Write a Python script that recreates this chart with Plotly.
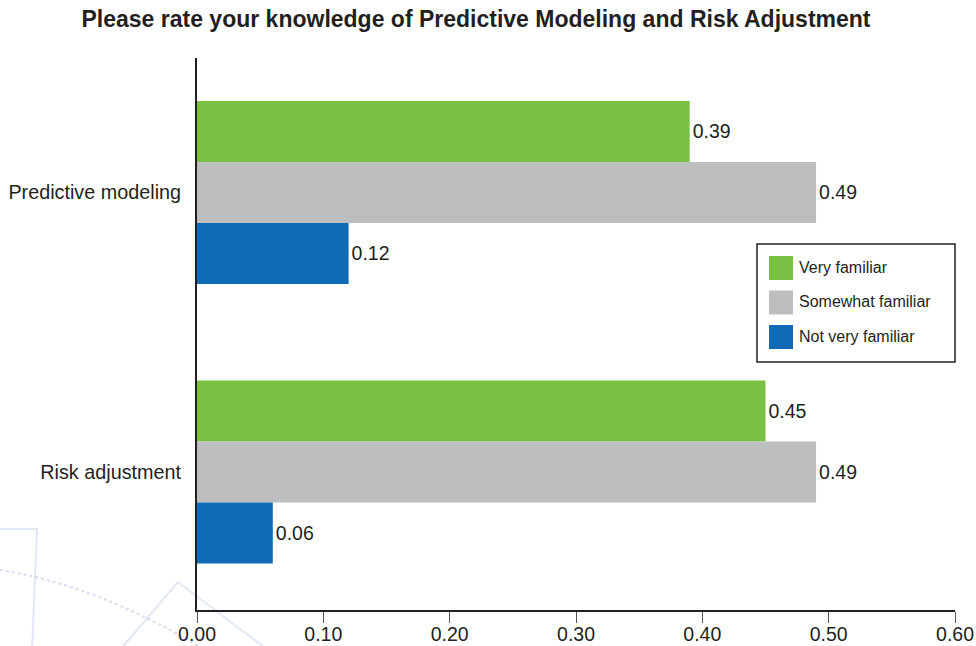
import plotly.graph_objects as go

# Survey results: share of respondents per familiarity level
categories = ["Predictive modeling", "Risk adjustment"]
series_names = ["Very familiar", "Somewhat familiar", "Not very familiar"]
very_familiar = [0.39, 0.45]
somewhat_familiar = [0.49, 0.49]
not_very_familiar = [0.12, 0.06]
x_ticks = [0.0, 0.1, 0.2, 0.3, 0.4, 0.5, 0.6]
x_tick_labels = ["0.00", "0.10", "0.20", "0.30", "0.40", "0.50", "0.60"]

colors = ["#7AC143", "#BCBEC0", "#0F6BB5"]
FONT = "Liberation Sans, Arial, Helvetica, sans-serif"
INK = "#231f20"

W, H = 976, 646
M_L, M_R, M_T, M_B = 197, 21, 58, 36
PLOT_W = W - M_L - M_R
PLOT_H = H - M_T - M_B


def px_x(v):
    """Page pixel column -> paper x."""
    return (v - M_L) / PLOT_W


def px_y(v):
    """Page pixel row -> paper y."""
    return (H - M_B - v) / PLOT_H


fig = go.Figure()
for name, vals, col in zip(series_names,
                           [very_familiar, somewhat_familiar, not_very_familiar],
                           colors):
    fig.add_trace(go.Bar(
        y=categories, x=vals, name=name, orientation="h",
        marker=dict(color=col, line=dict(width=0)),
        text=[f"{v:.2f}" for v in vals], textposition="outside",
        textfont=dict(family=FONT, size=19.5, color=INK),
        cliponaxis=False, showlegend=False,
    ))

shapes = []
annotations = []

# Legend box with colour swatches
shapes.append(dict(type="rect", xref="paper", yref="paper",
                   x0=px_x(757), x1=px_x(955), y0=px_y(362), y1=px_y(244),
                   line=dict(color=INK, width=1.5), fillcolor="white", layer="above"))
for i, (name, col) in enumerate(zip(series_names, colors)):
    cy = 268 + i * 34.5
    shapes.append(dict(type="rect", xref="paper", yref="paper",
                       x0=px_x(769), x1=px_x(793), y0=px_y(cy + 12), y1=px_y(cy - 12),
                       line=dict(width=0), fillcolor=col, layer="above"))
    annotations.append(dict(xref="paper", yref="paper", x=px_x(797), y=px_y(cy - 1),
                            xanchor="left", yanchor="middle", text=name, showarrow=False,
                            font=dict(family=FONT, size=16, color=INK)))

# Faint background emblem lines in the lower-left corner
wm = dict(color="rgba(170,188,225,0.35)", width=2)
shapes.append(dict(type="path", xref="paper", yref="paper", layer="below",
                   path=f"M {px_x(0)},{px_y(529)} L {px_x(37)},{px_y(529)} L {px_x(32)},{px_y(650)}",
                   line=wm))
shapes.append(dict(type="path", xref="paper", yref="paper", layer="below",
                   path=f"M {px_x(0)},{px_y(570)} Q {px_x(100)},{px_y(586)} {px_x(205)},{px_y(650)}",
                   line=dict(color="rgba(160,180,222,0.45)", width=2, dash="dot")))
shapes.append(dict(type="path", xref="paper", yref="paper", layer="below",
                   path=f"M {px_x(120)},{px_y(650)} L {px_x(178)},{px_y(582)} L {px_x(268)},{px_y(650)}",
                   line=wm))

fig.update_layout(
    width=W, height=H,
    margin=dict(l=M_L, r=M_R, t=M_T, b=M_B, pad=0, autoexpand=False),
    paper_bgcolor="white", plot_bgcolor="rgba(0,0,0,0)",
    barmode="group", bargap=0.345, bargroupgap=0,
    showlegend=False,
    font=dict(family=FONT, color=INK),
    title=dict(text="<b>Please rate your knowledge of Predictive Modeling and Risk Adjustment</b>",
               x=476 / W, xanchor="center", xref="container",
               y=1 - 19 / H, yanchor="middle", yref="container",
               font=dict(family=FONT, size=23, color=INK)),
    xaxis=dict(range=[0, 0.6], tickvals=x_ticks, ticktext=x_tick_labels,
               automargin=False, showgrid=False, zeroline=False,
               showline=True, linecolor=INK, linewidth=2,
               ticks="outside", ticklen=11, tickwidth=1, tickcolor="#555555",
               ticklabelstandoff=-5,
               tickfont=dict(family=FONT, size=19.5, color=INK)),
    yaxis=dict(type="category", range=[1.494, -0.481],
               automargin=False, showgrid=False, zeroline=False,
               showline=True, linecolor=INK, linewidth=2,
               ticks="", ticklabelstandoff=10,
               tickfont=dict(family=FONT, size=19.8, color=INK)),
    shapes=shapes, annotations=annotations,
)

fig.write_html("out.html")
